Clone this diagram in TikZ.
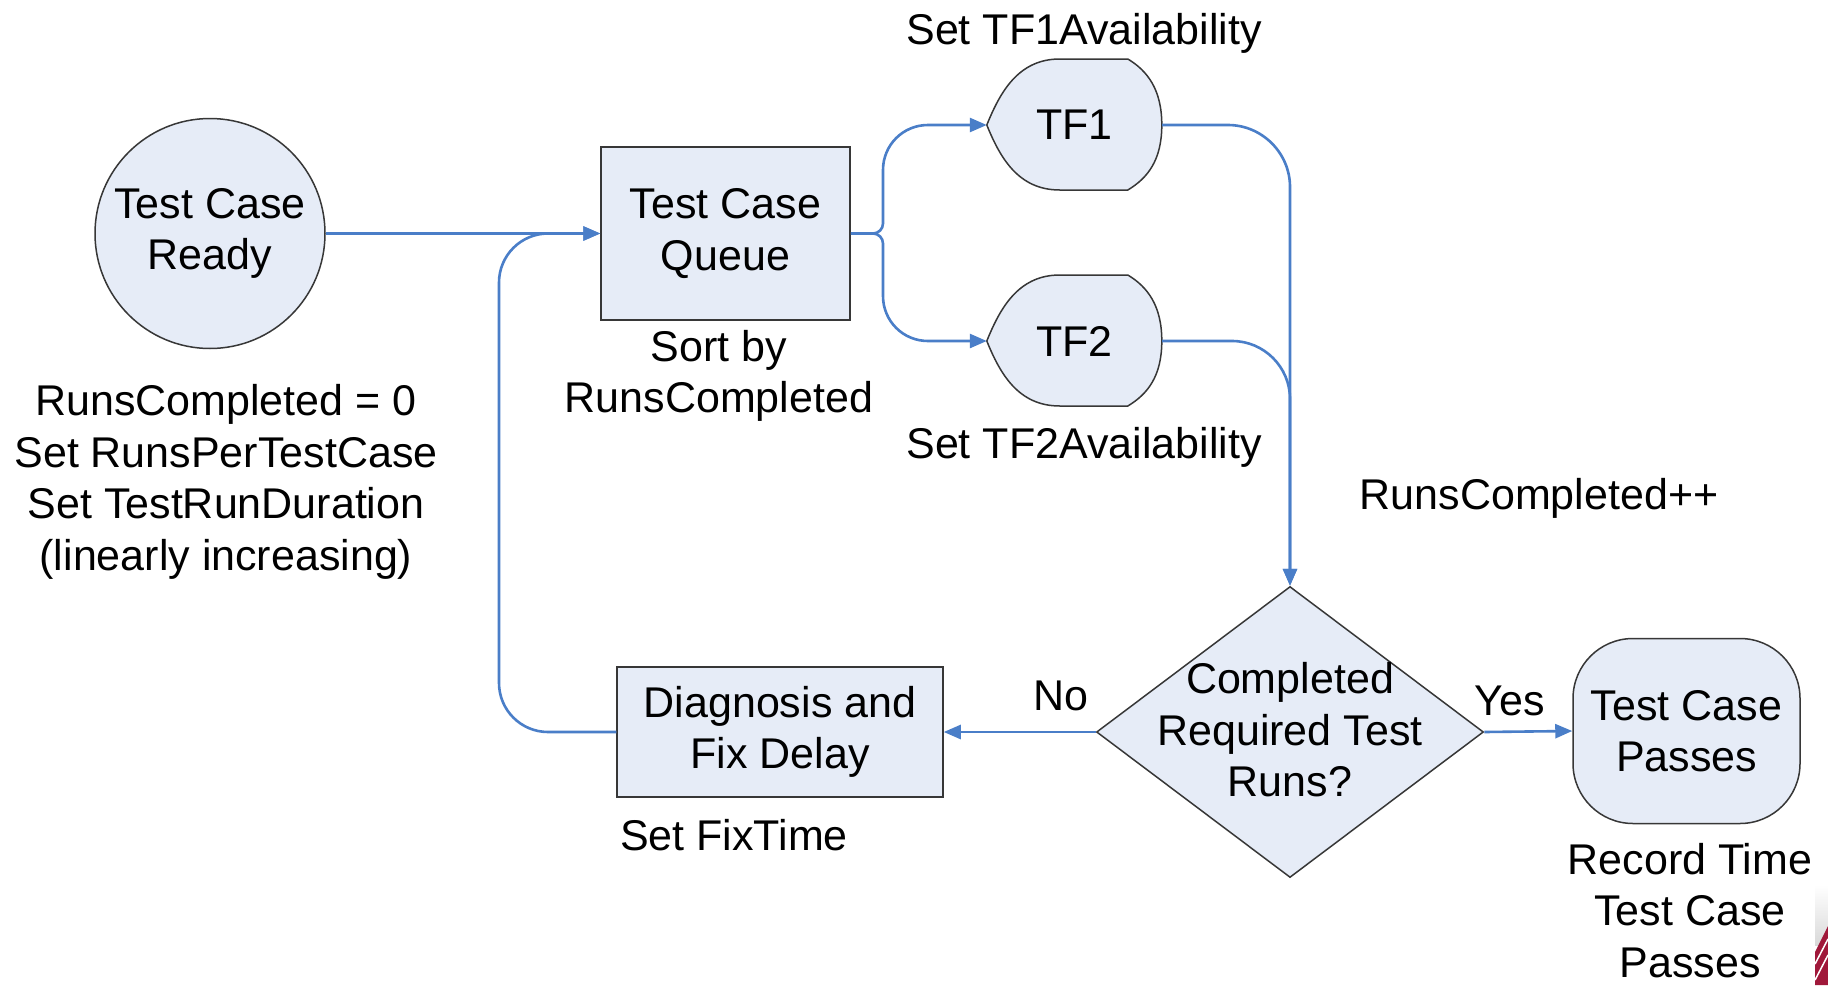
\documentclass[tikz,border=0pt]{standalone}
\usepackage{fontspec}
\setmainfont{Liberation Sans}
\usetikzlibrary{arrows.meta,shapes.geometric,calc,backgrounds}
\definecolor{shapefill}{RGB}{230,236,247}
\definecolor{flowblue}{RGB}{74,126,200}
\definecolor{edgegray}{RGB}{55,55,55}
\definecolor{logored}{RGB}{160,24,58}

\begin{document}
\begin{tikzpicture}[x=1pt,y=-1pt,
  every node/.style={font=\fontsize{43}{51.5}\selectfont, inner sep=0pt, align=center},
  shapebox/.style={draw=edgegray, fill=shapefill, line width=1.5pt},
  flowline/.style={draw=flowblue, line width=2.6pt},
  flow/.style={flowline, -{Triangle[length=17pt,width=14pt]}}]

  \begin{scope}[on background layer]
    \fill[white] (0,0) rectangle (1828,985);
  \end{scope}
  \useasboundingbox (0,0) rectangle (1828,985);

  % main shapes
  \node[shapebox, circle, minimum size=230pt] (ready) at (210,233.5) {Test Case\\Ready};
  \node[shapebox, rectangle, minimum width=249pt, minimum height=173pt] (queue) at (725.5,233.5) {Test Case\\Queue};
  \node[minimum width=175pt, minimum height=131pt] (tf1) at (1074.5,125) {TF1};
  \node[minimum width=175pt, minimum height=131pt] (tf2) at (1074.5,341) {TF2};
  \node[shapebox, diamond, minimum width=387pt, minimum height=291pt] (dia) at (1290,732) {};
  \node (dtext) at (1290,730) {Completed\\Required Test\\Runs?};
  \node[shapebox, rectangle, minimum width=326pt, minimum height=130pt] (diag) at (780,732) {Diagnosis and\\Fix Delay};
  \node[shapebox, rectangle, rounded corners=60pt, minimum width=227pt, minimum height=185pt] (pass) at (1686.5,731) {Test Case\\Passes};

  % display-shaped outlines for the two test facilities
  \begin{scope}[on background layer]
    \foreach \t in {tf1,tf2}{
      \draw[shapebox] (\t.west)
        .. controls +(13,-32) and +(-42,0) .. ($(\t.west)+(73,-66)$)
        -- ($(\t.west)+(141,-66)$)
        .. controls +(20,12) and +(0,-35) .. ($(\t.west)+(175,0)$)
        .. controls +(0,35) and +(20,-12) .. ($(\t.west)+(141,65)$)
        -- ($(\t.west)+(73,65)$)
        .. controls +(-42,0) and +(13,32) .. (\t.west) -- cycle;
    }
  \end{scope}

  % annotations
  \node (init) at (226,482) {RunsCompleted = 0\\Set RunsPerTestCase\\Set TestRunDuration\\(linearly increasing)};
  \node (sortby) at (719,376) {Sort by\\RunsCompleted};
  \node (tf1lab) at (1084,33.5) {Set TF1Availability};
  \node (tf2lab) at (1084,447.5) {Set TF2Availability};
  \node (inc) at (1539,498.5) {RunsCompleted++};
  \node (nolab) at (1061,696) {No};
  \node (yeslab) at (1510,700.5) {Yes};
  \node (fixlab) at (734,835) {Set FixTime};
  \node (passlab) at (1690,910.5) {Record Time\\Test Case\\Passes};

  % connectors
  \draw[flow] (ready.east) -- (queue.west);
  \draw[flow] (queue.east) -- (873,233.5)
    .. controls (878.5,233.5) and (883,229) .. (883,223.5) -- (883,170)
    .. controls (883,145) and (903,125) .. (928,125) -- (tf1.west);
  \draw[flow] (queue.east) -- (873,233.5)
    .. controls (878.5,233.5) and (883,238) .. (883,243.5) -- (883,296)
    .. controls (883,321) and (903,341) .. (928,341) -- (tf2.west);
  \draw[flow] (tf1.east) -- (1228,125)
    .. controls (1262,125) and (1290,153) .. (1290,187) -- (dia.north);
  \draw[flow] (tf2.east) -- (1232,341)
    .. controls (1264,341) and (1290,367) .. (1290,399) -- (dia.north);
  \draw[flow] (dia.west) -- (diag.east);
  \draw[flow] (dia.east) -- (pass.west);
  \draw[flow] (diag.west) -- (548,732)
    .. controls (521,732) and (499,710) .. (499,683) -- (499,282.5)
    .. controls (499,255.5) and (521,233.5) .. (548,233.5) -- (queue.west);

  % corner of the slide emblem
  \shade[top color=white, bottom color=gray!30] (1815,885) rectangle (1828,945);
  \fill[logored] (1815,985) -- (1815,952) -- (1828,926) -- (1828,985) -- cycle;
  \draw[white, line width=1.5pt] (1815,964) -- (1828,939);
  \draw[white, line width=1.5pt] (1815,980) -- (1828,955);
\end{tikzpicture}
\end{document}
